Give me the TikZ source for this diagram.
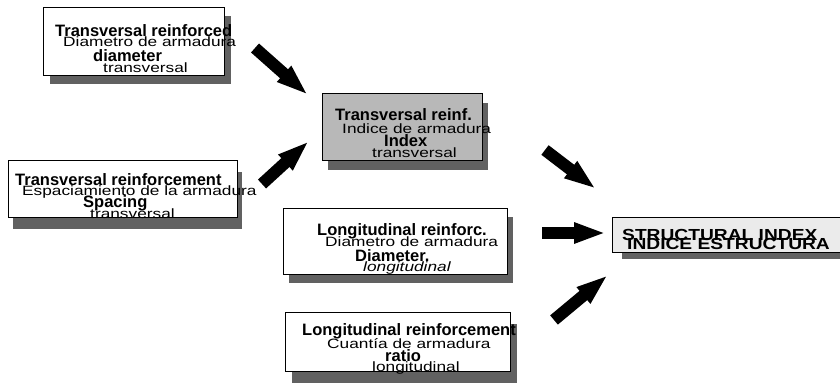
\documentclass[tikz,border=0pt]{standalone}
\usepackage{fontspec}
\setmainfont{Liberation Sans}
\newfontfamily\rgf[FakeStretch=1.28]{Liberation Sans}
\newfontfamily\bdf{Liberation Sans}
\newfontfamily\bigf[FakeStretch=1.2]{Liberation Sans}
\usetikzlibrary{arrows.meta,shadows}
\tikzset{
  box/.style={draw=black, line width=0.8pt, fill=white, inner sep=0pt, anchor=center},
  rg/.style={anchor=base west, inner sep=0pt, font=\rgf\fontsize{13.5}{13.5}\selectfont},
  rgi/.style={anchor=base west, inner sep=0pt, font=\rgf\itshape\fontsize{13.5}{13.5}\selectfont},
  bd/.style={anchor=base west, inner sep=0pt, font=\bdf\bfseries\fontsize{16.5}{16.5}\selectfont},
  bg/.style={anchor=base west, inner sep=0pt, font=\bigf\bfseries\fontsize{16}{16}\selectfont},
  blk/.style={draw=black, line width=12pt, -{Triangle[length=32pt,width=19pt]}}
}
\begin{document}
\begin{tikzpicture}[x=1pt,y=-1pt]
\useasboundingbox (0,0) rectangle (840,388);
\clip (0,0) rectangle (840,388);
% boxes
\node[box, minimum width=181pt, minimum height=68pt,
  drop shadow={shadow xshift=7pt, shadow yshift=-9pt, fill=black!62, opacity=1}] (A) at (133.5,41) {};
\node[box, minimum width=229pt, minimum height=57pt,
  drop shadow={shadow xshift=5pt, shadow yshift=-12pt, fill=black!62, opacity=1}] (B) at (122.5,188.5) {};
\node[box, fill=black!28, minimum width=160pt, minimum height=67pt,
  drop shadow={shadow xshift=6pt, shadow yshift=-10pt, fill=black!62, opacity=1}] (C) at (402,126.5) {};
\node[box, minimum width=224pt, minimum height=66pt,
  drop shadow={shadow xshift=6pt, shadow yshift=-9pt, fill=black!62, opacity=1}] (D) at (395,241) {};
\node[box, minimum width=225pt, minimum height=59pt,
  drop shadow={shadow xshift=7pt, shadow yshift=-12pt, fill=black!62, opacity=1}] (E) at (397.5,341.5) {};
\node[box, fill=black!8, minimum width=240pt, minimum height=35pt,
  drop shadow={shadow xshift=10pt, shadow yshift=-7pt, fill=black!62, opacity=1}] (F) at (732,234.5) {};
% texts box A
\node[bd] (a1) at (55,36) {Transversal reinforced};
\node[rg] (a2) at (63,46.5) {Diametro de armadura};
\node[bd] (a3) at (93,61.5) {diameter};
\node[rg] (a4) at (103,72) {transversal};
% texts box B
\node[bd] (b1) at (15,185) {Transversal reinforcement};
\node[rg] (b2) at (22,195) {Espaciamiento de la armadura};
\node[bd] (b3) at (83,207) {Spacing};
\node[rg] (b4) at (90,218) {transversal};
% texts box C
\node[bd] (c1) at (335,120) {Transversal reinf.};
\node[rg] (c2) at (342,133) {Indice de armadura};
\node[bd] (c3) at (384,146.5) {Index};
\node[rg] (c4) at (372,157.5) {transversal};
% texts box D
\node[bd] (d1) at (317,235.5) {Longitudinal reinforc.};
\node[rg] (d2) at (325,246) {Diametro de armadura};
\node[bd] (d3) at (355,261) {Diameter.};
\node[rgi] (d4) at (363,271) {longitudinal};
% texts box E
\node[bd] (e1) at (302,335.5) {Longitudinal reinforcement};
\node[rg] (e2) at (327,348) {Cuantía de armadura};
\node[bd] (e3) at (385,361) {ratio};
\node[rg] (e4) at (372,371) {longitudinal};
% texts box F
\node[bg] (f1) at (622,240.5) {STRUCTURAL INDEX};
\node[bg] (f2) at (627,249.5) {INDICE ESTRUCTURA};
% arrows
\coordinate (t1) at (255,48); \coordinate (h1) at (308,95);
\coordinate (t2) at (262,184); \coordinate (h2) at (309,141);
\coordinate (t3) at (545,150); \coordinate (h3) at (596,189);
\coordinate (t4) at (542,233); \coordinate (h4) at (606,233);
\coordinate (t5) at (554,320); \coordinate (h5) at (608,275);
\draw[blk] (t1) -- (h1);
\draw[blk] (t2) -- (h2);
\draw[blk] (t3) -- (h3);
\draw[blk] (t4) -- (h4);
\draw[blk] (t5) -- (h5);
\end{tikzpicture}
\end{document}
